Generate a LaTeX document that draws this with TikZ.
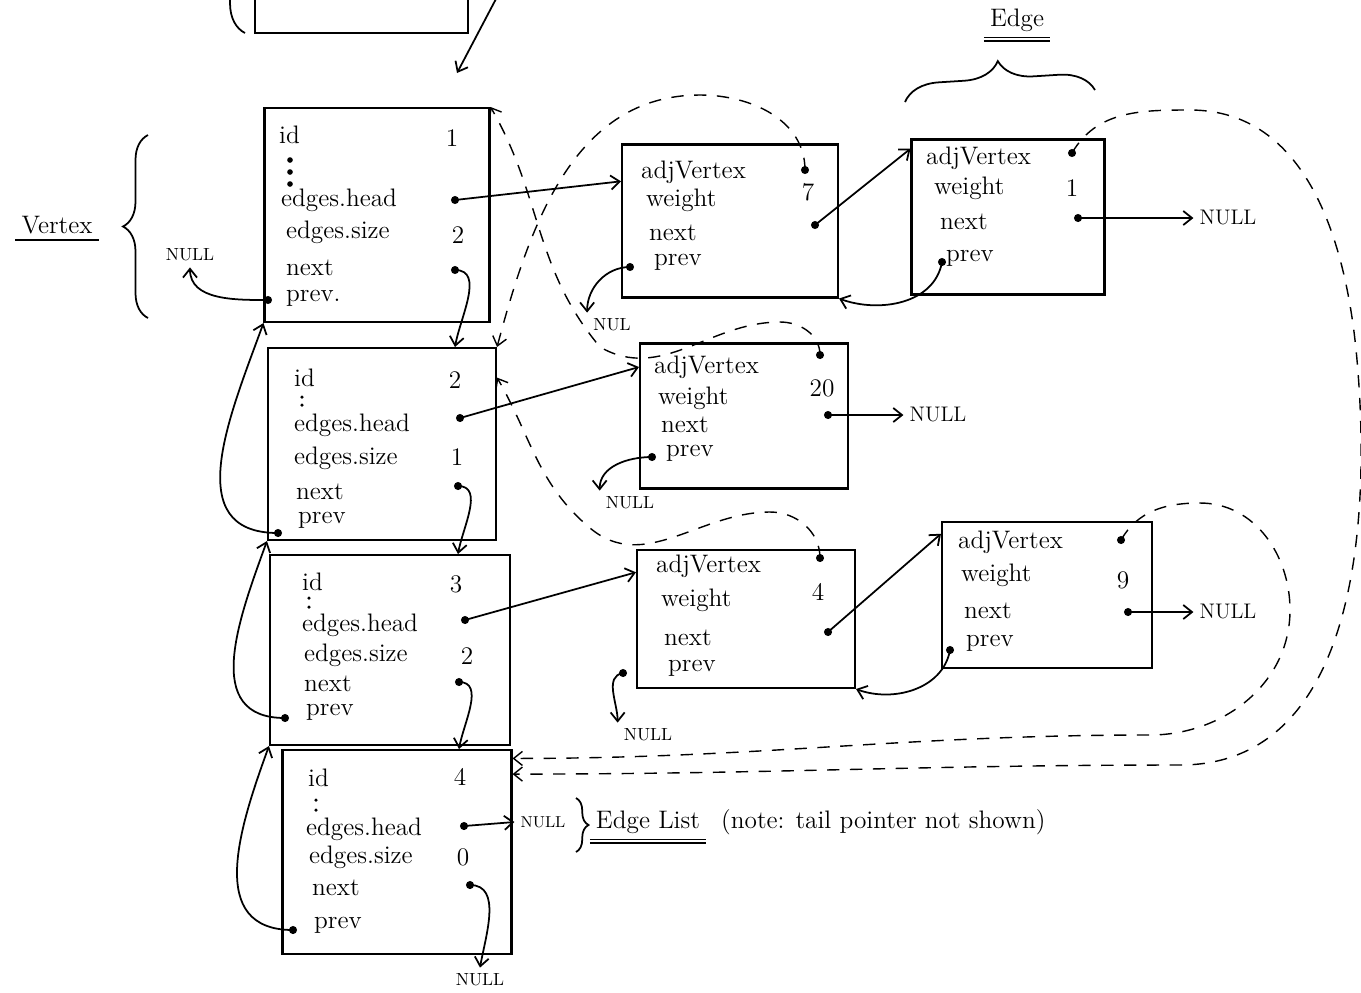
\documentclass[tikz,border=0pt]{standalone}
\usetikzlibrary{arrows.meta,decorations.pathreplacing}
\begin{document}
\begin{tikzpicture}[x=0.02cm,y=-0.02cm,
  box/.style={draw,line width=1.2pt,inner sep=0pt},
  fld/.style={anchor=west,font=\Large},
  val/.style={font=\Large},
  nul/.style={font=\normalsize},
  ptr/.style={line width=1pt,-{Straight Barb[length=5pt,width=8pt]}},
  adj/.style={ptr,line width=0.8pt,dash pattern=on 7pt off 6pt},
  brc/.style={decorate,line width=1pt}]
\useasboundingbox (0,0) rectangle (1361,992);

% list head (cut off at the top)
\draw[line width=1.2pt] (255,-60)--(255,33)--(468,33)--(468,-60);
\draw[brc,decoration={brace,amplitude=0.6cm}] (245,33)--(245,-300);
\coordinate (hd) at (497,-3);
\coordinate (hdtip) at (457,73);
\draw[ptr] (hd)--(hdtip);

% vertex boxes
\node[box,minimum width=4.5cm,minimum height=4.28cm] (v1) at (377,215) {};
\node[box,minimum width=4.56cm,minimum height=3.84cm] (v2) at (382,444) {};
\node[box,minimum width=4.8cm,minimum height=3.8cm] (v3) at (390,650) {};
\node[box,minimum width=4.58cm,minimum height=4.08cm] (v4) at (397,852) {};

% edge boxes
\node[box,minimum width=4.32cm,minimum height=3.06cm] (e12) at (730,221) {};
\node[box,minimum width=3.86cm,minimum height=3.1cm] (e14) at (1008,217) {};
\node[box,minimum width=4.16cm,minimum height=2.9cm] (e21) at (744,416) {};
\node[box,minimum width=4.36cm,minimum height=2.76cm] (e32) at (746,619) {};
\node[box,minimum width=4.2cm,minimum height=2.92cm] (e34) at (1047,595) {};

% vertex fields
\node[fld] (v1id) at (273,135) {id};
\node[fld] (v1hl) at (275,200) {edges.head};
\node[fld] (v1sl) at (280,232) {edges.size};
\node[fld] (v1nl) at (280,268) {next};
\node[fld] (v1pl) at (280,298) {prev.};
\node[val] (v1iv) at (452,138) {1};
\node[val] (v1sv) at (458,235) {2};

\node[fld] (v2id) at (288,378) {id};
\node[fld] (v2hl) at (288,425) {edges.head};
\node[fld] (v2sl) at (288,458) {edges.size};
\node[fld] (v2nl) at (290,492) {next};
\node[fld] (v2pl) at (292,520) {prev};
\node[val] (v2iv) at (455,380) {2};
\node[val] (v2sv) at (457,457) {1};

\node[fld] (v3id) at (296,582) {id};
\node[fld] (v3hl) at (296,625) {edges.head};
\node[fld] (v3sl) at (298,655) {edges.size};
\node[fld] (v3nl) at (298,684) {next};
\node[fld] (v3pl) at (300,712) {prev};
\node[val] (v3iv) at (456,584) {3};
\node[val] (v3sv) at (467,656) {2};

\node[fld] (v4id) at (302,778) {id};
\node[fld] (v4hl) at (300,829) {edges.head};
\node[fld] (v4sl) at (303,857) {edges.size};
\node[fld] (v4nl) at (306,888) {next};
\node[fld] (v4pl) at (308,925) {prev};
\node[val] (v4iv) at (460,777) {4};
\node[val] (v4sv) at (463,857) {0};

% the dots under id
\foreach \y in {160,172,184} \fill (290,\y) circle (1.6pt);
\foreach \x/\y in {302/397,302/405,309/598,309/607,316/800,316/810}
  \fill (\x,\y) circle (1pt);

% edge fields
\node[fld] (e12al) at (635,172) {adjVertex};
\node[fld] (e12wl) at (640,200) {weight};
\node[fld] (e12nl) at (643,233) {next};
\node[fld] (e12pl) at (648,262) {prev};
\node[val] (e12wv) at (808,192) {7};

\node[fld] (e14al) at (920,158) {adjVertex};
\node[fld] (e14wl) at (928,188) {weight};
\node[fld] (e14nl) at (934,222) {next};
\node[fld] (e14pl) at (940,258) {prev};
\node[val] (e14wv) at (1072,188) {1};

\node[fld] (e21al) at (648,367) {adjVertex};
\node[fld] (e21wl) at (652,398) {weight};
\node[fld] (e21nl) at (655,425) {next};
\node[fld] (e21pl) at (660,453) {prev};
\node[val] (e21wv) at (822,388) {20};

\node[fld] (e32al) at (650,566) {adjVertex};
\node[fld] (e32wl) at (655,600) {weight};
\node[fld] (e32nl) at (658,638) {next};
\node[fld] (e32pl) at (662,668) {prev};
\node[val] (e32wv) at (818,592) {4};

\node[fld] (e34al) at (952,542) {adjVertex};
\node[fld] (e34wl) at (955,575) {weight};
\node[fld] (e34nl) at (958,611) {next};
\node[fld] (e34pl) at (960,643) {prev};
\node[val] (e34wv) at (1123,580) {9};

% pointer dots
\coordinate (v1h) at (455,200); \coordinate (v1n) at (455,270); \coordinate (v1p) at (268,300);
\coordinate (v2h) at (460,418); \coordinate (v2n) at (458,486); \coordinate (v2p) at (278,533);
\coordinate (v3h) at (465,620); \coordinate (v3n) at (459,682); \coordinate (v3p) at (285,718);
\coordinate (v4h) at (464,826); \coordinate (v4n) at (470,885); \coordinate (v4p) at (293,930);
\coordinate (e12a) at (805,170); \coordinate (e12n) at (815,225); \coordinate (e12p) at (630,267);
\coordinate (e14a) at (1072,153); \coordinate (e14n) at (1078,218); \coordinate (e14p) at (942,262);
\coordinate (e21a) at (820,355); \coordinate (e21n) at (828,415); \coordinate (e21p) at (652,457);
\coordinate (e32a) at (820,558); \coordinate (e32n) at (828,632); \coordinate (e32p) at (623,673);
\coordinate (e34a) at (1121,540); \coordinate (e34n) at (1128,612); \coordinate (e34p) at (950,650);
\foreach \p in {v1h,v1n,v1p,v2h,v2n,v2p,v3h,v3n,v3p,v4h,v4n,v4p,
  e12a,e12n,e12p,e14a,e14n,e14p,e21a,e21n,e21p,e32a,e32n,e32p,e34a,e34n,e34p}
  \fill (\p) circle (2.3pt);

% NULL ends
\node[nul] (nv1) at (190,255) {NULL};
\node[nul,font=\small] (nv4h) at (543,822) {NULL};
\node[nul] (nv4n) at (480,980) {NULL};
\node[nul] (n12p) at (612,325) {NUL};
\node[nul,font=\large] (n14n) at (1228,218) {NULL};
\node[nul,font=\large] (n21n) at (938,415) {NULL};
\node[nul] (n21p) at (630,503) {NULL};
\node[nul] (n32p) at (648,735) {NULL};
\node[nul,font=\large] (n34n) at (1228,612) {NULL};

% edges.head pointers
\draw[ptr] (v1h)--(e12.160);
\draw[ptr] (v2h)--(e21.155);
\draw[ptr] (v3h)--(e32.157);
\draw[ptr] (v4h)--(nv4h.west);

% next / prev between vertices
\draw[ptr] (v1n) to[out=0,in=80] (v2.north -| v1n);
\draw[ptr] (v2n) to[out=0,in=80] (v3.north -| v2n);
\draw[ptr] (v3n) to[out=0,in=80] (v4.north -| v3n);
\draw[ptr] (v4n) to[out=0,in=80] (nv4n.north);
\draw[ptr] (v1p) to[out=180,in=270] (nv1.south);
\draw[ptr] (v2p) to[out=180,in=250,looseness=1.2] (v1.south west);
\draw[ptr] (v3p) to[out=180,in=250,looseness=1.2] (v2.south west);
\draw[ptr] (v4p) to[out=180,in=250,looseness=1.2] (v3.south west);

% next / prev between edges
\draw[ptr] (e12n)--(e14.145);
\draw[ptr] (e14p) to[out=260,in=-20] (e12.south east);
\draw[ptr] (e14n)--(n14n.west);
\draw[ptr] (e12p) to[out=180,in=90] (n12p.north west);
\draw[ptr] (e21n)--(n21n.west);
\draw[ptr] (e21p) to[out=180,in=90] (n21p.north west);
\draw[ptr] (e32n)--(e34.150);
\draw[ptr] (e34p) to[out=260,in=-20] (e32.south east);
\draw[ptr] (e32p) to[out=190,in=90] (n32p.north west);
\draw[ptr] (e34n)--(n34n.west);

% adjVertex pointers
\draw[adj] (e12a) to[out=90,in=0] (700,95) to[out=180,in=75] (v2.north east);
\draw[adj] (e21a) to[out=90,in=0] (780,322) to[out=180,in=-30] (600,347)
  to[out=130,in=-60] (v1.north east);
\draw[adj] (e32a) to[out=90,in=0] (770,512) to[out=180,in=-40] (590,528)
  to[out=140,in=-60] (v2.30);
\draw[adj] (e34a) to[out=60,in=180] (1200,503) to[out=0,in=90] (1290,610)
  to[out=270,in=0] (1150,735) to[out=180,in=0] (v4.39);
\draw[adj] (e14a) to[out=60,in=180] (1190,110) to[out=0,in=95] (1357,360)
  to[out=275,in=0] (1180,765) to[out=180,in=0] (v4.34);

% labels
\node[font=\Large] (vx) at (57,225) {Vertex};
\draw[line width=1pt] (vx.south west)--(vx.south east);
\draw[brc,decoration={brace,amplitude=0.5cm}] (148,318)--(148,135);
\node[font=\Large] (ed) at (1017,20) {Edge};
\draw[line width=0.8pt] (ed.south west)--(ed.south east);
\draw[line width=0.8pt] ([yshift=-2pt]ed.south west)--([yshift=-2pt]ed.south east);
\draw[brc,decoration={brace,amplitude=0.7cm}] (905,102)--(1095,90);
\draw[brc,decoration={brace,amplitude=0.25cm}] (576,798)--(576,852);
\node[font=\Large] (el) at (648,822) {Edge List};
\draw[line width=0.8pt] (el.south west)--(el.south east);
\draw[line width=0.8pt] ([yshift=-2pt]el.south west)--([yshift=-2pt]el.south east);
\node[font=\Large,anchor=west] (nt) at (715,822) {(note: tail pointer not shown)};
\end{tikzpicture}
\end{document}
